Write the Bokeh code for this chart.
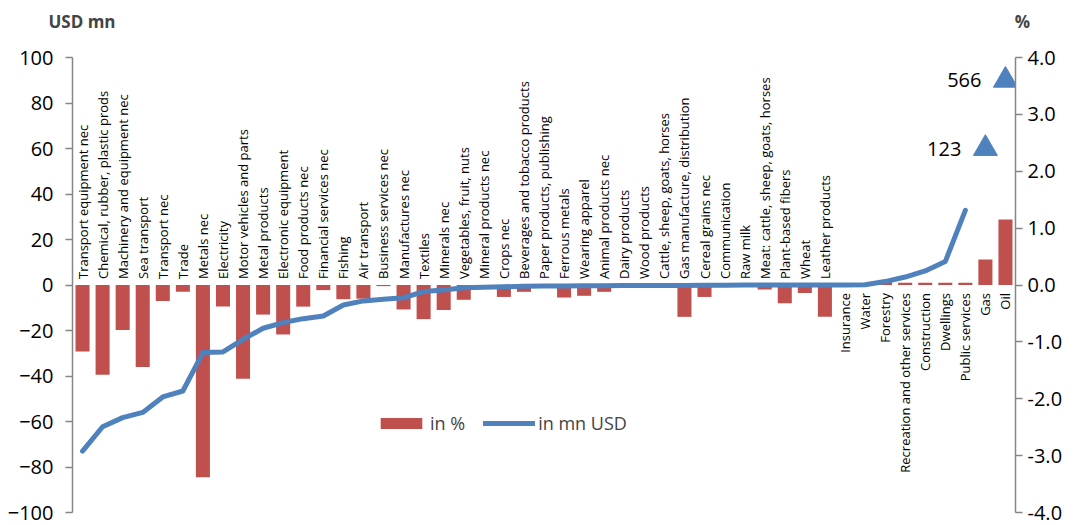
import math
from bokeh.plotting import figure
from bokeh.models import (Range1d, LinearAxis, Label, Legend, LegendItem,
                          NumeralTickFormatter, FixedTicker)
from bokeh.core.properties import value
from bokeh.embed import file_html
from bokeh.resources import INLINE

# ---------------- data ----------------
categories = [
    "Transport equipment nec", "Chemical, rubber, plastic prods",
    "Machinery and equipment nec", "Sea transport", "Transport nec", "Trade",
    "Metals nec", "Electricity", "Motor vehicles and parts", "Metal products",
    "Electronic equipment", "Food products nec", "Financial services nec",
    "Fishing", "Air transport", "Business services nec", "Manufactures nec",
    "Textiles", "Minerals nec", "Vegetables, fruit, nuts",
    "Mineral products nec", "Crops nec", "Beverages and tobacco products",
    "Paper products, publishing", "Ferrous metals", "Wearing apparel",
    "Animal products nec", "Dairy products", "Wood products",
    "Cattle, sheep, goats, horses", "Gas manufacture, distribution",
    "Cereal grains nec", "Communication", "Raw milk",
    "Meat: cattle, sheep, goats, horses", "Plant-based fibers", "Wheat",
    "Leather products", "Insurance", "Water", "Forestry",
    "Recreation and other services", "Construction", "Dwellings",
    "Public services", "Gas", "Oil",
]

# change in % (bars, right axis)
change_pct = [
    -1.17, -1.58, -0.79, -1.44, -0.28, -0.12, -3.38, -0.38, -1.65, -0.52,
    -0.87, -0.38, -0.09, -0.25, -0.24, -0.02, -0.43, -0.60, -0.44, -0.26,
    -0.03, -0.21, -0.12, -0.03, -0.22, -0.19, -0.12, -0.02, -0.02, -0.05,
    -0.56, -0.21, -0.01, -0.01, -0.08, -0.32, -0.14, -0.56, 0.0, 0.0,
    0.08, 0.04, 0.04, 0.04, 0.04, 0.45, 1.15,
]

# change in mn USD (line, left axis)
change_usd = [
    -73.0, -62.3, -58.3, -56.0, -49.2, -46.6, -29.7, -29.4, -23.9, -19.0,
    -16.5, -14.8, -13.6, -8.8, -7.0, -6.3, -5.6, -2.9, -2.2, -1.2,
    -1.0, -0.8, -0.5, -0.4, -0.4, -0.3, -0.3, -0.2, -0.2, -0.2,
    -0.2, -0.1, -0.1, 0.0, 0.0, 0.0, 0.0, 0.0, 0.0, 0.1,
    1.5, 3.5, 6.2, 10.3, 32.8, 123, 566,
]

left_ticks = [-100, -80, -60, -40, -20, 0, 20, 40, 60, 80, 100]
right_ticks = [-4, -3, -2, -1, 0, 1, 2, 3, 4]
offscale_marker_y = [60, 90]   # display position of off-scale indicators

# ---------------- styling ----------------
FONT = "Open Sans"
RED = "#C0504D"
BLUE = "#4F81BD"
AXIS = "#868686"

n = len(categories)
idx = list(range(n))
ymax = max(left_ticks)

p = figure(frame_width=943, frame_height=455,
           x_range=Range1d(-0.5, n - 0.5), y_range=Range1d(-100, 100),
           x_axis_location=None, title_location=None,
           output_backend="svg", toolbar_location=None,
           min_border_left=72, min_border_right=66, min_border_top=57,
           min_border_bottom=13)
p.outline_line_color = None
p.grid.visible = False
p.background_fill_color = "white"
p.border_fill_color = "white"

p.extra_y_ranges = {"pct": Range1d(-4, 4)}

def style_axis(ax, standoff):
    ax.axis_line_color = AXIS
    ax.axis_line_width = 1.5
    ax.major_tick_line_color = AXIS
    ax.major_tick_line_width = 1.5
    ax.major_tick_out = 7
    ax.major_tick_in = 0
    ax.minor_tick_line_color = None
    ax.major_label_text_font = FONT
    ax.major_label_text_font_size = "20px"
    ax.major_label_text_color = "black"
    ax.major_label_standoff = standoff

yl = p.yaxis[0]
yl.ticker = FixedTicker(ticks=left_ticks)
style_axis(yl, 12)

yr = LinearAxis(y_range_name="pct", ticker=FixedTicker(ticks=right_ticks),
                formatter=NumeralTickFormatter(format="0.0"))
style_axis(yr, 5)
p.add_layout(yr, "right")

# bars
bars = p.vbar(x=idx, top=change_pct, width=0.7, y_range_name="pct",
              fill_color=RED, line_color=None)

# line (only in-range values)
in_idx = [i for i in idx if change_usd[i] <= ymax]
line = p.line(x=in_idx, y=[change_usd[i] for i in in_idx], line_color=BLUE,
              line_width=5, line_join="round", line_cap="round")

# off-scale indicators
off_idx = [i for i in idx if change_usd[i] > ymax]
p.scatter(x=off_idx, y=offscale_marker_y, marker="triangle", size=24,
          fill_color=BLUE, line_color=BLUE)
p.text(x=off_idx, y=offscale_marker_y,
       text=[f"{change_usd[i]:.0f}" for i in off_idx],
       text_align="right", text_baseline="middle", x_offset=-24,
       text_font=value(FONT), text_font_size="20px", text_color="black")

# category labels
above = [i for i in idx if change_pct[i] < 0]
below = [i for i in idx if change_pct[i] >= 0]
p.text(x=above, y=[0] * len(above), text=[categories[i] for i in above],
       angle=math.pi / 2, text_align="left", text_baseline="middle",
       y_offset=-6, text_font=value(FONT), text_font_size="13px",
       text_color="black")
p.text(x=below, y=[0] * len(below), text=[categories[i] for i in below],
       angle=math.pi / 2, text_align="right", text_baseline="middle",
       y_offset=8, text_font=value(FONT), text_font_size="13px",
       text_color="black")

# axis titles, placed in the panel above the frame
p.add_layout(Label(x=-1.7, y=116, text="USD mn", text_font=FONT,
                   text_font_size="17px", text_font_style="bold",
                   text_baseline="middle", text_align="left"), "above")
p.add_layout(Label(x=46.85, y=116, text="%", text_font=FONT,
                   text_font_size="17px", text_font_style="bold",
                   text_baseline="middle", text_align="center"), "above")

legend = Legend(items=[LegendItem(label="in %", renderers=[bars]),
                       LegendItem(label="in mn USD", renderers=[line])],
                orientation="horizontal", location=(303, 77),
                glyph_width=52, glyph_height=14, label_standoff=3, spacing=18,
                label_text_font=FONT, label_text_font_size="18px",
                border_line_color=None, background_fill_alpha=0,
                padding=0, margin=0)
p.add_layout(legend)

open("out.html", "w").write(file_html(p, INLINE))
